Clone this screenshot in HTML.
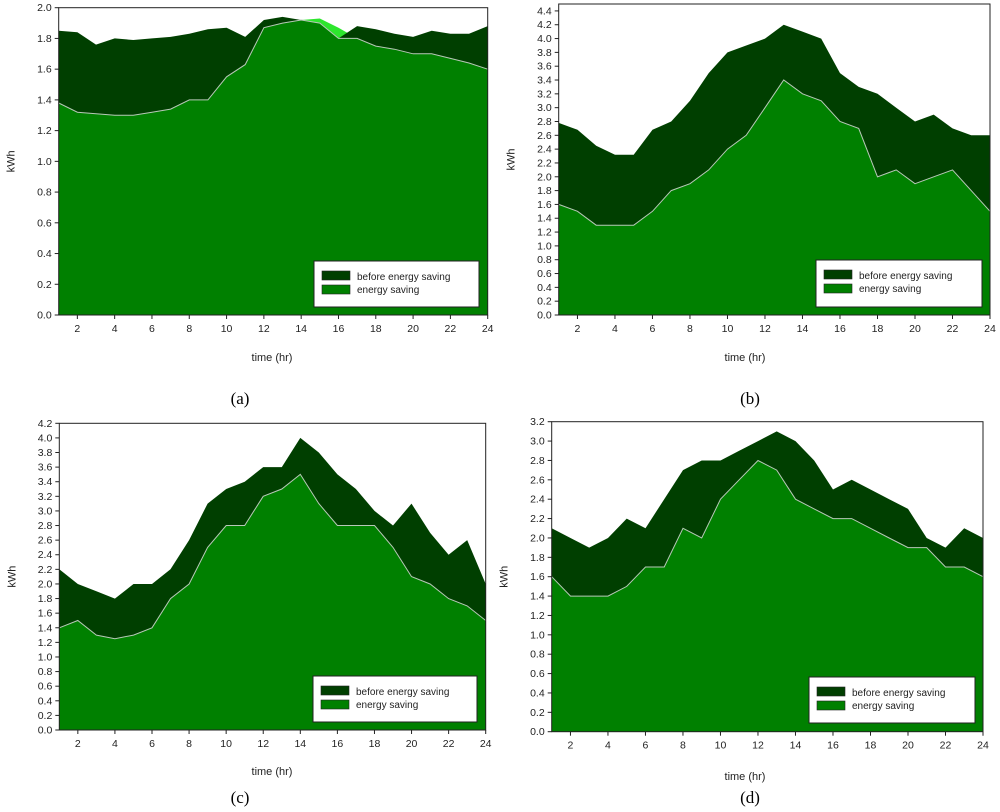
<!DOCTYPE html>
<html><head><meta charset="utf-8"><style>
body{margin:0;background:#fff;}
svg{display:block;font-family:"Liberation Sans",sans-serif;}
</style></head><body>
<svg id="chart" width="1000" height="812" viewBox="0 0 1000 812"></svg>
<script>
const hours=[1,2,3,4,5,6,7,8,9,10,11,12,13,14,15,16,17,18,19,20,21,22,23,24];
const beforeA=[1.85,1.84,1.76,1.80,1.79,1.80,1.81,1.83,1.86,1.87,1.81,1.92,1.94,1.92,1.90,1.80,1.88,1.86,1.83,1.81,1.85,1.83,1.83,1.88];
const savingA=[1.38,1.32,1.31,1.30,1.30,1.32,1.34,1.40,1.40,1.55,1.63,1.87,1.90,1.92,1.93,1.87,1.80,1.75,1.73,1.70,1.70,1.67,1.64,1.60];
const beforeB=[2.78,2.68,2.45,2.32,2.32,2.68,2.80,3.10,3.50,3.80,3.90,4.00,4.20,4.10,4.00,3.50,3.30,3.20,3.00,2.80,2.90,2.70,2.60,2.60];
const savingB=[1.60,1.50,1.30,1.30,1.30,1.50,1.80,1.90,2.10,2.40,2.60,3.00,3.40,3.20,3.10,2.80,2.70,2.00,2.10,1.90,2.00,2.10,1.80,1.50];
const beforeC=[2.20,2.00,1.90,1.80,2.00,2.00,2.20,2.60,3.10,3.30,3.40,3.60,3.60,4.00,3.80,3.50,3.30,3.00,2.80,3.10,2.70,2.40,2.60,2.00];
const savingC=[1.40,1.50,1.30,1.25,1.30,1.40,1.80,2.00,2.50,2.80,2.80,3.20,3.30,3.50,3.10,2.80,2.80,2.80,2.50,2.10,2.00,1.80,1.70,1.50];
const beforeD=[2.10,2.00,1.90,2.00,2.20,2.10,2.40,2.70,2.80,2.80,2.90,3.00,3.10,3.00,2.80,2.50,2.60,2.50,2.40,2.30,2.00,1.90,2.10,2.00];
const savingD=[1.60,1.40,1.40,1.40,1.50,1.70,1.70,2.10,2.00,2.40,2.60,2.80,2.70,2.40,2.30,2.20,2.20,2.10,2.00,1.90,1.90,1.70,1.70,1.60];
const xTicks=[2,4,6,8,10,12,14,16,18,20,22,24];

const NS="http://www.w3.org/2000/svg";
const svg=document.getElementById('chart');
function mk(tag,attrs,parent){const e=document.createElementNS(NS,tag);for(const k in attrs)e.setAttribute(k,attrs[k]);(parent||svg).appendChild(e);return e;}

const panels=[
 {id:'a',L:58.7,R:487.7,T:7.7,B:315,ymax:2.0,top:2.0,before:beforeA,saving:savingA,leg:[314,261,479,307],xt:[272,361],cap:[240,404]},
 {id:'b',L:558.7,R:990,T:4,B:315,ymax:4.5,top:4.4,before:beforeB,saving:savingB,leg:[816,260,982,307],xt:[745,361],cap:[750,404]},
 {id:'c',L:59.3,R:485.7,T:423.3,B:730,ymax:4.2,top:4.2,before:beforeC,saving:savingC,leg:[313,676,477,722],xt:[272,775],cap:[240,803]},
 {id:'d',L:551.7,R:983,T:421.7,B:731.7,ymax:3.2,top:3.2,before:beforeD,saving:savingD,leg:[809,677,975,723],xt:[745,780],cap:[750,803]}
];

panels.forEach(p=>{
 const g=mk('g',{});
 
 
 const x=h=>p.L+(h-1)/23*(p.R-p.L);
 const y=v=>p.B-v/p.ymax*(p.B-p.T);
 const area=arr=>{let d='M'+x(1)+','+p.B;arr.forEach((v,i)=>{d+=' L'+x(hours[i]).toFixed(1)+','+y(v).toFixed(1);});return d+' L'+x(24)+','+p.B+' Z';};
 const minArr=p.before.map((v,i)=>Math.min(v,p.saving[i]));
 const s1=mk('path',{d:area(p.saving),fill:'#2ee62e'},g);
 
 
 const b=mk('path',{d:area(p.before),fill:'#003f00'},g);
 
 
 const s=mk('path',{d:area(minArr),fill:'#008000'},g);
 
 
 let ld='';minArr.forEach((v,i)=>{ld+=(i?' L':'M')+x(hours[i]).toFixed(1)+','+y(v).toFixed(1);});
 const ln=mk('path',{d:ld,fill:'none',stroke:'#b8c8b8','stroke-width':1},g);
 
 
 const fr=mk('rect',{x:p.L,y:p.T,width:p.R-p.L,height:p.B-p.T,fill:'none',stroke:'#222','stroke-width':1},g);
 
 
 for(let i=0;i<=Math.round(p.top/0.2);i++){
  const v=i*0.2,yy=y(v);
  mk('line',{x1:p.L-4,x2:p.L,y1:yy,y2:yy,stroke:'#222'},g);
  const t=mk('text',{x:p.L-7,y:yy+3.5,'font-size':10.5,'text-anchor':'end',fill:'#222'},g);
  t.textContent=v.toFixed(1);
  
  
 }
 xTicks.forEach(h=>{
  const xx=x(h);
  mk('line',{x1:xx,x2:xx,y1:p.B,y2:p.B+4,stroke:'#222'},g);
  const t=mk('text',{x:xx,y:p.B+17,'font-size':10.5,'text-anchor':'middle',fill:'#222'},g);
  t.textContent=h;
  
  
 });
 const yt=mk('text',{x:0,y:0,'font-size':11,'text-anchor':'middle',fill:'#222',transform:`translate(${p.L-44},${(p.T+p.B)/2}) rotate(-90)`},g);
 yt.textContent='kWh';
 
 
 const xt=mk('text',{x:p.xt[0],y:p.xt[1],'font-size':11,'text-anchor':'middle',fill:'#222'},g);
 xt.textContent='time (hr)';
 
 
 const cp=mk('text',{x:p.cap[0],y:p.cap[1],'font-size':17,'text-anchor':'middle',fill:'#000','font-family':'Liberation Serif, serif'},g);
 cp.textContent='('+p.id+')';
 
 
 const [lx1,ly1,lx2,ly2]=p.leg;
 const lg=mk('g',{},g);
 
 
 mk('rect',{x:lx1,y:ly1,width:lx2-lx1,height:ly2-ly1,fill:'#fff',stroke:'#222'},lg);
 const e1=mk('rect',{x:lx1+8,y:ly1+10,width:28,height:9,fill:'#003f00',stroke:'#222','stroke-width':0.6},lg);
 
 
 const e2=mk('rect',{x:lx1+8,y:ly1+24,width:28,height:9,fill:'#008000',stroke:'#222','stroke-width':0.6},lg);
 
 
 const t1=mk('text',{x:lx1+43,y:ly1+19,'font-size':10,fill:'#222'},lg);
 t1.textContent='before energy saving';
 
 
 const t2=mk('text',{x:lx1+43,y:ly1+32,'font-size':10,fill:'#222'},lg);
 t2.textContent='energy saving';
 
 
});
</script>
</body></html>
